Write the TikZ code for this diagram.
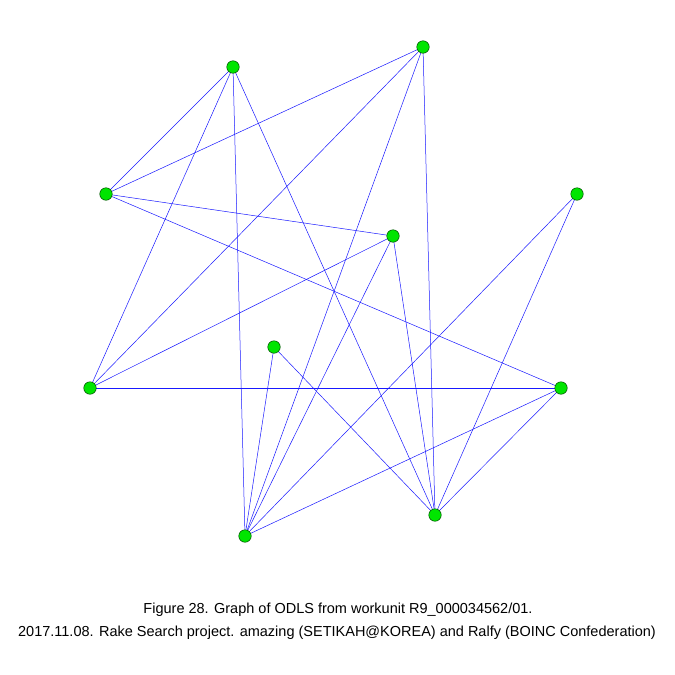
\documentclass[tikz,border=0pt]{standalone}
\usepackage{fontspec}
\setmainfont{Liberation Sans}
\begin{document}
\begin{tikzpicture}[x=1pt,y=-1pt,
  vert/.style={circle,draw=black!70!green,fill=green!90!black,line width=0.5pt,minimum size=12.5pt,inner sep=0pt},
  link/.style={draw=blue!90!white,line width=0.5pt},
  captext/.style={font=\fontsize{14.5}{17}\selectfont,inner sep=0pt}]
\useasboundingbox[fill=white] (0,0) rectangle (675,675);
\coordinate (A) at (233,67);
\coordinate (B) at (423,47);
\coordinate (C) at (106,194);
\coordinate (D) at (577,194);
\coordinate (E) at (393,236);
\coordinate (F) at (274,347);
\coordinate (G) at (90,388);
\coordinate (H) at (561,388);
\coordinate (I) at (435,515);
\coordinate (J) at (245,536);
\foreach \a/\b in {A/C,A/G,A/J,A/I,B/C,B/G,B/J,B/I,C/E,C/H,D/J,D/I,E/G,E/J,E/I,F/J,F/I,G/H,H/J,H/I}
  \draw[link] (\a) -- (\b);
\foreach \n in {A,B,C,D,E,F,G,H,I,J}
  \node[vert] (n\n) at (\n) {};
\node[captext] (t1) at (338,610) {Figure 28. Graph of ODLS from workunit R9\_000034562/01.};
\node[captext] (t2) at (337,633) {2017.11.08. Rake Search project. amazing (SETIKAH@KOREA) and Ralfy (BOINC Confederation)};
\end{tikzpicture}
\end{document}
